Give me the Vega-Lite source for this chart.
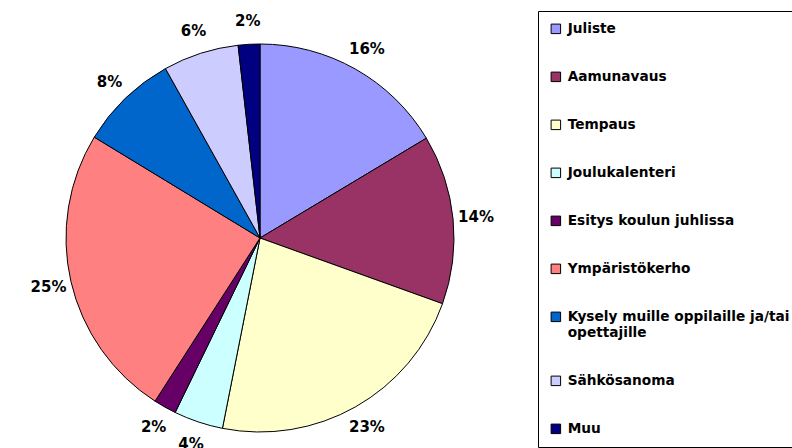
{
  "$schema": "https://vega.github.io/schema/vega-lite/v6.json",
  "width": 520,
  "height": 476,
  "padding": 0,
  "autosize": {"type": "pad"},
  "background": "white",
  "config": {"view": {"stroke": null}},
  "data": {
    "values": [
      {"idx": 1, "category": "Juliste", "value": 0.164},
      {"idx": 2, "category": "Aamunavaus", "value": 0.141},
      {"idx": 3, "category": "Tempaus", "value": 0.226},
      {"idx": 4, "category": "Joulukalenteri", "value": 0.041},
      {"idx": 5, "category": "Esitys koulun juhlissa", "value": 0.019},
      {"idx": 6, "category": "Ympäristökerho", "value": 0.246},
      {"idx": 7, "category": "Kysely muille oppilaille ja/tai opettajille", "value": 0.082},
      {"idx": 8, "category": "Sähkösanoma", "value": 0.063},
      {"idx": 9, "category": "Muu", "value": 0.018}
    ]
  },
  "encoding": {
    "theta": {"field": "value", "type": "quantitative", "stack": true},
    "order": {"field": "idx", "type": "quantitative"}
  },
  "layer": [
    {
      "mark": {"type": "arc", "outerRadius": 194, "stroke": "black", "strokeWidth": 1},
      "encoding": {
        "color": {
          "field": "category",
          "type": "nominal",
          "scale": {
            "domain": ["Juliste", "Aamunavaus", "Tempaus", "Joulukalenteri", "Esitys koulun juhlissa", "Ympäristökerho", "Kysely muille oppilaille ja/tai opettajille", "Sähkösanoma", "Muu"],
            "range": ["#9999FF", "#993366", "#FFFFCC", "#CCFFFF", "#660066", "#FF8080", "#0066CC", "#CCCCFF", "#000080"]
          },
          "legend": {
            "orient": "none",
            "legendX": 538,
            "legendY": 11,
            "title": null,
            "strokeColor": "black",
            "fillColor": "white",
            "padding": 11,
            "symbolType": "square",
            "symbolSize": 90,
            "symbolStrokeColor": "black",
            "symbolStrokeWidth": 1,
            "labelFont": "DejaVu Sans",
            "labelFontSize": 13.7,
            "labelFontWeight": "bold",
            "labelColor": "black",
            "labelLimit": 500,
            "labelOffset": 5,
            "rowPadding": 33,
            "labelExpr": "datum.label == 'Kysely muille oppilaille ja/tai opettajille' ? ['Kysely muille oppilaille ja/tai', 'opettajille'] : datum.label"
          }
        }
      }
    },
    {
      "mark": {"type": "text", "radius": 217, "font": "DejaVu Sans", "fontWeight": "bold", "fontSize": 15, "fill": "black"},
      "encoding": {
        "text": {"field": "value", "type": "quantitative", "format": ".0%"}
      }
    }
  ]
}
